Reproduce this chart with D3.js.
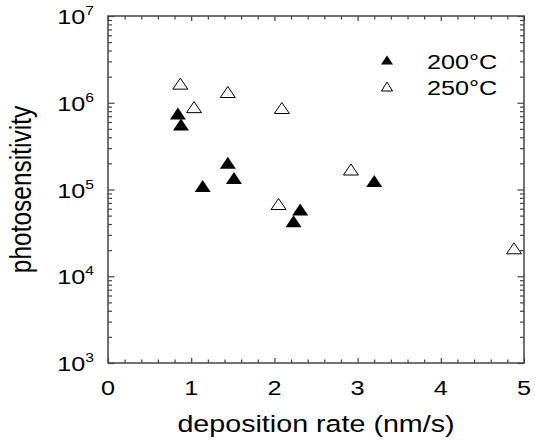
<!DOCTYPE html>
<meta charset="utf-8">
<head>
  <script src="https://d3js.org/d3.v7.min.js"></script>
</head>
<style>
  body { margin: 0; background: white; }
  text { font-family: "Liberation Sans", Arial, sans-serif; fill: #000; }
  .axis path { display: none; }
  .axis line { stroke: #444; stroke-width: 1.2; }
</style>
<body>
<div id="chart"></div>
<script>
// data
var rate200 = [0.84, 0.877, 1.138, 1.44, 1.514, 2.23, 2.31, 3.20];
var sens200 = [7.5e5, 5.6e5, 1.1e5, 2.03e5, 1.36e5, 4.3e4, 5.9e4, 1.25e5];
var rate250 = [0.869, 1.034, 1.44, 2.05, 2.09, 2.92, 4.88];
var sens250 = [1.66e6, 8.9e5, 1.33e6, 6.8e4, 8.7e5, 1.7e5, 2.1e4];
var xTicks = [0, 1, 2, 3, 4, 5];
var yExps = [3, 4, 5, 6, 7];
var seriesNames = ["200\u00B0C", "250\u00B0C"];

var width = 535, height = 445;
// plot frame (window.top is reserved, so prefix these)
var pLeft = 108, pRight = 524, pTop = 16, pBottom = 363;
var stretch = 1.2; // the original's lettering is wider than it is tall

var svg = d3.select("#chart").append("svg")
  .attr("width", width)
  .attr("height", height);

var x = d3.scaleLinear().domain([0, 5]).range([pLeft, pRight]);
var y = d3.scaleLog().domain([1e3, 1e7]).range([pBottom, pTop]);

// minor tick positions
var xMinor = d3.range(0, 5.001, 0.2).filter(function(v) { return Math.abs(v - Math.round(v)) > 1e-6; });
var yMinor = [];
yExps.slice(0, -1).forEach(function(e) {
  for (var k = 2; k <= 9; k++) yMinor.push(k * Math.pow(10, e));
});
var yMajor = yExps.map(function(e) { return Math.pow(10, e); });

function addAxis(gen, pos, values, size) {
  svg.append("g").attr("class", "axis")
    .attr("transform", pos)
    .call(gen.tickValues(values).tickSize(size).tickFormat(""));
}
addAxis(d3.axisBottom(x), "translate(0," + pBottom + ")", xTicks, -5);
addAxis(d3.axisBottom(x), "translate(0," + pBottom + ")", xMinor, -3.5);
addAxis(d3.axisTop(x), "translate(0," + pTop + ")", xTicks, -5);
addAxis(d3.axisTop(x), "translate(0," + pTop + ")", xMinor, -3.5);
addAxis(d3.axisLeft(y), "translate(" + pLeft + ",0)", yMajor, -6.5);
addAxis(d3.axisLeft(y), "translate(" + pLeft + ",0)", yMinor, -4);
addAxis(d3.axisRight(y), "translate(" + pRight + ",0)", yMajor, -6.5);
addAxis(d3.axisRight(y), "translate(" + pRight + ",0)", yMinor, -4);

// frame
svg.append("rect")
  .attr("x", pLeft).attr("y", pTop)
  .attr("width", pRight - pLeft).attr("height", pBottom - pTop)
  .attr("fill", "none")
  .attr("stroke", "#444")
  .attr("stroke-width", 1.5);

// x tick labels
svg.selectAll(".xlab").data(xTicks).enter().append("text")
  .attr("class", "xlab")
  .attr("transform", function(d) { return "translate(" + x(d) + ",395) scale(" + stretch + ",1)"; })
  .attr("text-anchor", "middle")
  .style("font-size", "21px")
  .text(function(d) { return d; });

// y tick labels 10^n
var ylab = svg.selectAll(".ylab").data(yExps).enter().append("text")
  .attr("class", "ylab")
  .attr("transform", function(d) { return "translate(94," + (y(Math.pow(10, d)) + 8) + ") scale(" + stretch + ",1)"; })
  .attr("text-anchor", "end")
  .style("font-size", "21px");
ylab.append("tspan").text("10");
ylab.append("tspan").attr("dy", -9).style("font-size", "13px").text(function(d) { return d; });

// axis titles
svg.append("text")
  .attr("transform", "translate(316,432) scale(1.22,1)")
  .attr("text-anchor", "middle")
  .style("font-size", "23.5px")
  .text("deposition rate (nm/s)");

svg.append("text")
  .attr("transform", "translate(31,189.5) scale(" + stretch + ",1) rotate(-90)")
  .attr("text-anchor", "middle")
  .style("font-size", "24.5px")
  .text("photosensitivity");

// triangle marker centred on its bounding box
function tri(w, h) {
  return "M0," + (-h / 2) + "L" + (w / 2) + "," + (h / 2) + "L" + (-w / 2) + "," + (h / 2) + "Z";
}

var pts200 = rate200.map(function(r, i) { return [r, sens200[i]]; });
var pts250 = rate250.map(function(r, i) { return [r, sens250[i]]; });

svg.append("g").selectAll("path").data(pts250).enter().append("path")
  .attr("d", tri(15, 11))
  .attr("transform", function(d) { return "translate(" + x(d[0]) + "," + y(d[1]) + ")"; })
  .attr("fill", "white")
  .attr("stroke", "#000")
  .attr("stroke-width", 1);

svg.append("g").selectAll("path").data(pts200).enter().append("path")
  .attr("d", tri(16, 12))
  .attr("transform", function(d) { return "translate(" + x(d[0]) + "," + y(d[1]) + ")"; })
  .attr("fill", "#000");

// legend
var legend = svg.append("g");
seriesNames.forEach(function(name, i) {
  var ly = 60 + i * 26.5;
  legend.append("path")
    .attr("d", tri(i === 0 ? 12 : 11, 9))
    .attr("transform", "translate(387," + ly + ")")
    .attr("fill", i === 0 ? "#000" : "white")
    .attr("stroke", i === 0 ? "none" : "#000")
    .attr("stroke-width", 1);
  legend.append("text")
    .attr("transform", "translate(427," + (ly + 8.5) + ") scale(" + stretch + ",1)")
    .style("font-size", "21px")
    .text(name);
});
</script>
</body>
